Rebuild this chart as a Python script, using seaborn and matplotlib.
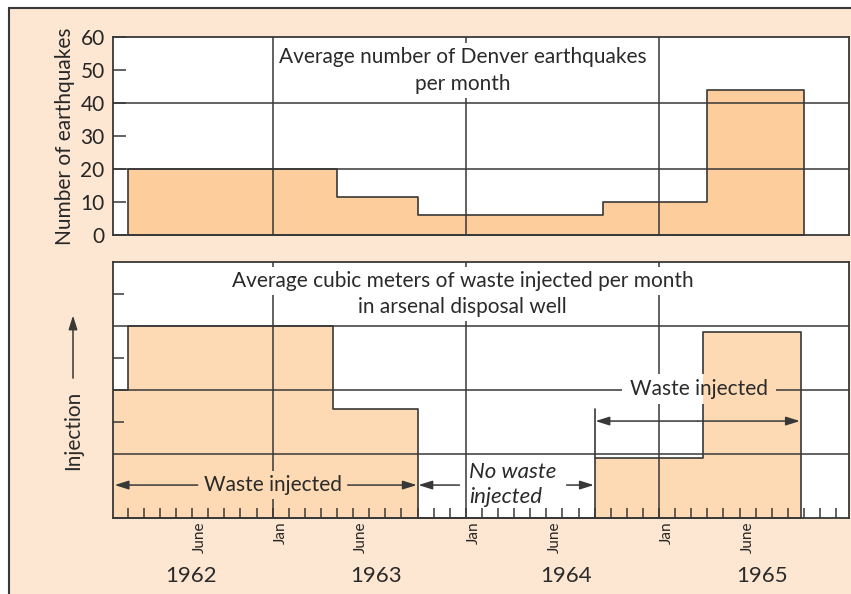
import numpy as np
import matplotlib.pyplot as plt
from matplotlib.patches import Rectangle
from matplotlib.transforms import blended_transform_factory
import seaborn as sns

# x axis is months counted from Jan 1962 (0 = Jan 1962)
quake_edges = [3, 16, 21, 32.5, 39, 45]
quake_rate = [20, 11.5, 6, 10, 44]

inj_edges = [2, 3, 15.75, 21, 32, 38.7, 44.8]
inj_level = [2.0, 3.0, 1.7, 0.0, 0.93, 2.9]

year_starts = [12, 24, 36]
month_label_pos = [7.5, 12.5, 17.5, 24.5, 29.5, 36.5, 41.5]
month_labels = ['June', 'Jan', 'June', 'Jan', 'June', 'Jan', 'June']
year_label_pos = [6.9, 18.4, 30.2, 42.4]
year_labels = ['1962', '1963', '1964', '1965']

quake_color = '#fecd9c'
inj_color = '#fddab3'
bg_color = '#fee7d2'
ink = '#383838'

sns.set_theme(style='white')
plt.rcParams['font.family'] = ['Lato', 'DejaVu Sans']
plt.rcParams['text.color'] = '#2a2a2a'

fig = plt.figure(figsize=(8.51, 5.94), dpi=100, facecolor='white')
fig.patches.append(Rectangle((9 / 851, -0.1), 1.2, (594 - 8) / 594 + 0.1,
                             transform=fig.transFigure, facecolor=bg_color,
                             edgecolor=ink, linewidth=1.5, zorder=-5))

ax1 = fig.add_axes([113 / 851, 1 - 235 / 594, 736 / 851, 198 / 594])
ax2 = fig.add_axes([113 / 851, 1 - 517.7 / 594, 736 / 851, 256 / 594])
for ax in (ax1, ax2):
    ax.set_facecolor('white')
    ax.set_axisbelow(False)

xlim = (2.08, 47.8)

# --- earthquakes panel ---
q_mid = [(a + b) / 2 for a, b in zip(quake_edges[:-1], quake_edges[1:])]
sns.histplot(x=q_mid, weights=quake_rate, bins=quake_edges, element='step',
             fill=True, facecolor=quake_color, edgecolor=ink, linewidth=1.2,
             ax=ax1, zorder=1)
for y in [20, 40]:
    ax1.axhline(y, color=ink, lw=1.1, zorder=2.5)
for x in year_starts:
    ax1.axvline(x, color=ink, lw=1.1, zorder=2.5)
ax1.set_xlim(*xlim)
ax1.set_ylim(0, 60)
ax1.set_yticks(range(0, 61, 10))
ax1.set_xticks([])
ax1.tick_params(axis='y', direction='in', length=9, width=1.1, color=ink,
                labelsize=15, pad=6, left=True)
ax1.set_ylabel('Number of earthquakes', fontsize=15, labelpad=4)
ax1.set_xlabel('')

tkw = dict(ha='center', va='center', fontsize=15, zorder=5,
           bbox=dict(facecolor='white', edgecolor='none', pad=3))
ax1.text(23.8, 54.0, 'Average number of Denver earthquakes', **tkw)
ax1.text(23.8, 45.8, 'per month', **tkw)

# --- injection panel ---
i_mid = [(a + b) / 2 for a, b in zip(inj_edges[:-1], inj_edges[1:])]
sns.histplot(x=i_mid, weights=inj_level, bins=inj_edges, element='step',
             fill=True, facecolor=inj_color, edgecolor=ink, linewidth=1.2,
             ax=ax2, zorder=1)
for y in [1, 2, 3]:
    ax2.axhline(y, color=ink, lw=1.1, zorder=2.5)
for x in year_starts:
    ax2.axvline(x, color=ink, lw=1.1, zorder=2.5)
ax2.set_xlim(*xlim)
ax2.set_ylim(0, 4)
ax2.set_yticks([1.5, 2.5, 3.5])
ax2.set_yticklabels([])
ax2.tick_params(axis='y', direction='in', length=8, width=1.1, color=ink, left=True)
ax2.set_xticks(month_label_pos)
ax2.set_xticklabels(month_labels, rotation=90, fontsize=11)
ax2.set_xticks(np.arange(3, 48), minor=True)
ax2.tick_params(axis='x', which='major', length=0, pad=3)
ax2.tick_params(axis='x', which='minor', direction='in', length=7, width=1.1,
                color=ink, bottom=True)
ax2.set_ylabel('')
ax2.set_xlabel('')

for ax in (ax1, ax2):
    for s in ax.spines.values():
        s.set_color(ink)
        s.set_linewidth(1.3)

ax2.text(23.8, 3.70, 'Average cubic meters of waste injected per month', **tkw)
ax2.text(23.8, 3.29, 'in arsenal disposal well', **tkw)

t_left = ax2.text(12.0, 0.51, 'Waste injected', ha='center', va='center',
                  fontsize=15, zorder=5,
                  bbox=dict(facecolor=inj_color, edgecolor='none', pad=3))
ax2.text(24.2, 0.72, 'No waste', ha='left', va='center', fontsize=16,
         style='italic', zorder=5)
ax2.text(24.2, 0.32, 'injected', ha='left', va='center', fontsize=16,
         style='italic', zorder=5)
t_right = ax2.text(38.5, 2.01, 'Waste injected', ha='center', va='center',
                   fontsize=15, zorder=5)

akw = dict(arrowstyle='-|>,head_length=0.7,head_width=0.22', color=ink, lw=1.1,
           shrinkA=0, shrinkB=0)
fig.canvas.draw()
inv = ax2.transData.inverted()
bb = t_left.get_window_extent()
(lx0, _), (lx1, _) = inv.transform([[bb.x0 - 6, bb.y0], [bb.x1 + 6, bb.y1]])
ax2.annotate('', xy=(xlim[0] + 0.1, 0.51), xytext=(lx0, 0.51), arrowprops=akw, zorder=5)
ax2.annotate('', xy=(inj_edges[3] - 0.05, 0.51), xytext=(lx1, 0.51), arrowprops=akw, zorder=5)

ax2.annotate('', xy=(inj_edges[3] + 0.05, 0.51), xytext=(23.6, 0.51), arrowprops=akw, zorder=5)
ax2.annotate('', xy=(inj_edges[4] - 0.05, 0.51), xytext=(30.26, 0.51), arrowprops=akw, zorder=5)

# two-tone mask behind right label (white over empty area, orange over bar)
bb = t_right.get_window_extent().padded(5)
(rx0, ry0), (rx1, ry1) = inv.transform([[bb.x0 - 3, bb.y0], [bb.x1 + 3, bb.y1]])
edge = inj_edges[5]
ax2.add_patch(Rectangle((rx0, ry0), edge - rx0, ry1 - ry0, facecolor='white',
                        edgecolor='none', zorder=4))
ax2.add_patch(Rectangle((edge, ry0), rx1 - edge, ry1 - ry0, facecolor=inj_color,
                        edgecolor='none', zorder=4))

ax2.plot([inj_edges[4], inj_edges[4]], [inj_level[4], 1.70], color=ink, lw=1.2, zorder=5)
ax2.annotate('', xy=(inj_edges[4] + 0.05, 1.51), xytext=(38.4, 1.51), arrowprops=akw, zorder=5)
ax2.annotate('', xy=(inj_edges[6] - 0.05, 1.51), xytext=(38.4, 1.51), arrowprops=akw, zorder=5)

# axis label for injection with upward arrow
ax2.text(-40 / 736, 0.34, 'Injection', transform=ax2.transAxes, rotation=90,
         ha='center', va='center', fontsize=15, clip_on=False)
ax2.annotate('', xy=(-40 / 736, 0.79), xytext=(-40 / 736, 0.545),
             xycoords='axes fraction', arrowprops=akw, annotation_clip=False)

trans = blended_transform_factory(ax2.transData, ax2.transAxes)
for x, lab in zip(year_label_pos, year_labels):
    ax2.text(x, -0.2266, lab, transform=trans, ha='center', va='center',
             fontsize=16, clip_on=False)

fig.savefig('out.png', dpi=100)
